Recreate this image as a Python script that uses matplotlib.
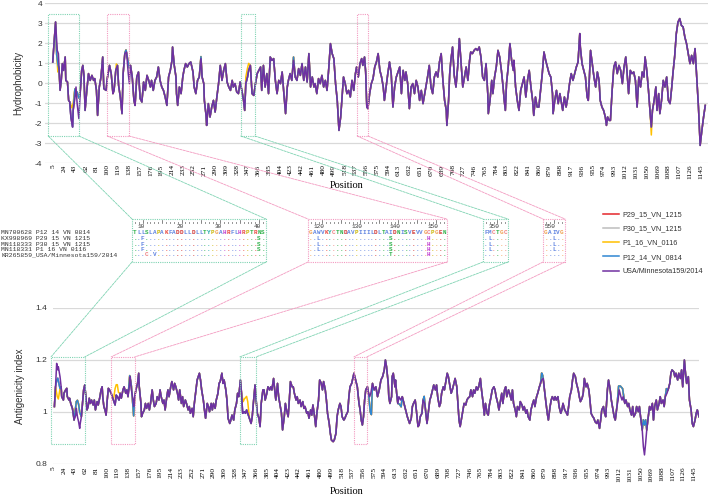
import numpy as np
import matplotlib
matplotlib.use("Agg")
import matplotlib.pyplot as plt
from matplotlib.patches import Rectangle, ConnectionPatch
from matplotlib.ticker import FuncFormatter

plt.rcParams["font.family"] = ["Liberation Sans", "DejaVu Sans"]
plt.rcParams["axes.unicode_minus"] = False

W, H = 709, 497

# ---- hydrophobicity profile, USA/Minnesota159/2014 ----
hydro_pos = [4, 9, 12, 14, 16, 17, 19, 21, 23, 26,
             27, 30, 32, 34, 36, 39, 40, 43, 45, 47,
             50, 52, 55, 57, 59, 61, 64, 67, 70, 73,
             76, 78, 81, 83, 86, 89, 92, 94, 98, 100,
             104, 107, 110, 112, 115, 118, 120, 123, 126, 128,
             131, 134, 137, 139, 141, 144, 147, 149, 152, 155,
             158, 161, 164, 167, 170, 173, 176, 178, 181, 184,
             187, 190, 193, 196, 199, 202, 205, 208, 211, 214,
             215, 218, 221, 222, 224, 227, 230, 233, 235, 238,
             241, 244, 247, 251, 253, 256, 259, 262, 265, 267,
             270, 271, 274, 275, 278, 281, 284, 287, 290, 293,
             296, 299, 302, 305, 308, 311, 314, 317, 320, 322,
             325, 328, 331, 334, 337, 340, 342, 344, 347, 349,
             352, 355, 358, 361, 364, 367, 370, 372, 375, 378,
             381, 384, 387, 390, 393, 396, 399, 402, 405, 408,
             411, 414, 417, 419, 422, 425, 428, 431, 434, 437,
             440, 443, 446, 449, 452, 455, 458, 461, 464, 466,
             469, 472, 475, 478, 481, 484, 487, 490, 493, 496,
             499, 502, 505, 508, 511, 514, 516, 519, 522, 525,
             528, 531, 534, 537, 539, 542, 545, 548, 550, 553,
             555, 557, 559, 562, 565, 568, 571, 574, 577, 580,
             583, 586, 588, 591, 594, 597, 600, 603, 606, 609,
             612, 615, 618, 621, 624, 626, 629, 632, 635, 638,
             641, 644, 647, 650, 653, 656, 659, 662, 664, 667,
             670, 673, 676, 679, 682, 685, 688, 691, 694, 697,
             698, 701, 703, 705, 708, 711, 714, 717, 720, 723,
             726, 729, 732, 735, 738, 740, 743, 746, 749, 752,
             755, 758, 761, 764, 767, 770, 771, 774, 777, 779,
             782, 785, 788, 791, 794, 797, 799, 801, 803, 806,
             809, 812, 815, 816, 819, 822, 825, 828, 831, 834,
             837, 840, 843, 846, 849, 851, 854, 857, 860, 863,
             866, 869, 872, 875, 878, 881, 884, 885, 888, 891,
             894, 897, 899, 902, 905, 908, 911, 914, 917, 920,
             923, 926, 929, 932, 933, 936, 939, 942, 945, 947,
             949, 951, 954, 957, 960, 963, 966, 968, 971, 974,
             977, 979, 981, 984, 986, 989, 992, 995, 998, 1001,
             1004, 1007, 1010, 1013, 1015, 1018, 1021, 1024, 1027, 1030,
             1033, 1036, 1039, 1042, 1045, 1047, 1050, 1053, 1056, 1058,
             1060, 1063, 1066, 1068, 1071, 1073, 1076, 1079, 1082, 1085,
             1088, 1091, 1094, 1096, 1099, 1102, 1105, 1108, 1111, 1114,
             1117, 1120, 1123, 1126, 1129, 1132, 1135, 1138, 1141, 1144,
             1147, 1150, 1153]
hydro_usa = [1.05, 3.05, 1.63, 1.47, 0.30, -0.37, 0.13, 0.97, 0.63, 1.30,
             0.13, 0.05, -0.87, -0.95, -1.70, -2.20, -1.37, -0.78, -0.20, -1.03,
             -1.78, -0.70, 0.63, 0.88, 0.38, -1.37, -0.37, 0.47, 0.13, 0.38,
             0.13, 0.22, -0.37, -1.62, -0.20, 0.30, 1.30, -0.28, -0.37, 0.22,
             0.88, 0.47, -0.53, -0.37, 0.63, 0.88, -0.12, -0.70, -1.53, 0.47,
             1.47, 1.55, 0.47, -0.03, 0.88, 0.30, -0.87, -1.12, 0.30, 0.55,
             -0.78, -0.95, 0.05, -0.37, 0.38, 0.13, -0.20, 0.13, -0.37, 0.13,
             0.30, 0.80, 0.13, -0.20, -0.37, -0.70, -1.12, 0.30, 0.63, 1.13,
             1.80, 0.88, 0.30, -0.53, -1.12, -0.20, -0.53, 0.30, 0.63, 0.97,
             0.80, 0.97, 1.05, 0.55, -0.20, -0.53, 0.13, 0.30, 1.22, 0.30,
             -0.03, -0.87, -1.62, -2.12, -1.03, -1.70, -1.20, -0.87, -1.45, -0.70,
             -0.03, 0.88, 0.13, 0.63, 0.97, 0.05, -0.20, -0.37, 0.13, -0.20,
             -0.03, -0.45, -0.53, 0.05, -0.37, -0.87, -1.37, -0.03, 0.30, 0.63,
             0.88, -0.53, -0.62, -0.03, 0.47, 0.63, 0.80, -0.37, 0.88, -0.20,
             0.47, -0.53, 1.30, 1.13, 1.22, 0.13, -0.53, 0.13, -0.03, 0.55,
             -0.53, -1.53, -0.20, 0.13, 0.47, 0.13, 1.13, 0.30, 0.13, 0.72,
             0.38, 0.97, 0.13, 0.80, 0.05, 1.47, -0.20, 0.30, -0.20, -0.03,
             -0.53, 0.22, -0.03, 0.38, -0.20, 0.13, -0.37, 0.72, 1.97, 1.47,
             1.22, -0.03, -0.87, -2.37, -1.70, -0.53, 0.30, -0.03, -0.53, -0.37,
             -0.70, 0.13, -0.37, 0.47, 0.80, 0.30, 0.97, 1.22, 0.88, 1.30,
             0.55, -1.20, -1.28, -0.53, -0.03, 0.22, 0.80, 1.05, 1.47, 0.63,
             0.30, -0.20, -0.87, -0.20, 0.47, 1.05, 0.47, -1.20, -0.20, 0.30,
             0.55, 0.80, -0.53, 0.63, 0.13, 0.55, -0.03, -1.28, -0.20, -0.03,
             -0.53, 0.13, -0.20, -0.87, -0.37, -1.03, -0.53, -0.03, 0.30, 0.88,
             -0.20, -0.53, 0.30, 0.55, 0.30, 1.05, 1.47, 0.13, -0.87, -1.37,
             -2.12, -0.87, 0.47, 1.13, 1.80, 0.38, -0.20, 0.80, 2.22, 0.97,
             -0.20, 0.30, 0.80, 0.13, 1.13, 1.55, 1.47, 1.63, 1.72, 1.63,
             1.80, 1.30, 0.30, 0.13, 0.97, -0.53, -1.53, -0.87, 0.13, -0.53,
             0.30, 0.80, 1.63, 1.30, 0.63, -0.20, -0.87, -1.37, -0.03, 0.80,
             1.97, 1.13, 0.63, 1.13, -0.20, -0.87, -1.37, -0.37, -0.03, 0.30,
             -0.70, 0.13, 0.63, -0.20, -0.87, -1.62, -0.70, -1.20, -1.20, -0.37,
             0.47, 1.55, 1.13, 0.80, 0.47, 0.30, -0.53, -1.53, -0.87, -0.37,
             -1.03, -0.53, -0.87, -1.37, -0.70, -1.20, -0.70, -0.03, 0.47, 0.13,
             0.47, 0.80, 1.05, 2.47, 1.80, 0.97, 0.63, 0.30, -0.70, -0.87,
             0.30, 1.63, 0.97, 0.30, -0.20, 0.55, 0.13, -0.87, -1.20, -1.37,
             -1.70, -2.12, -1.70, -1.87, -1.87, -0.37, 0.80, 1.05, 0.47, 0.88,
             0.63, -0.03, 0.80, 1.30, 0.63, -0.53, 0.63, 0.47, 0.55, 0.13,
             -1.20, 0.30, -0.20, 0.55, 0.30, 1.30, 0.63, -0.37, -1.53, -2.20,
             -1.37, -0.87, -0.20, -1.37, -0.53, -1.53, -0.87, 0.13, -0.20, 0.30,
             -0.87, -1.03, -0.20, 0.47, 1.30, 2.47, 3.05, 3.22, 2.88, 2.80,
             2.30, 1.97, 1.47, 0.97, 1.38, 0.97, 1.72, 0.30, -1.20, -3.12,
             -2.37, -1.70, -1.12]

# where the Vietnamese strains (P12, P29, P30) leave the USA curve
vn_hydro_pos = [11, 13, 15, 17, 43, 45, 47, 50, 52, 131, 133, 136, 139, 265, 428]
vn_hydro_val = [1.40, 0.95, 0.70, -0.35, -0.30, -0.55, -0.45, -0.75, -0.60,
                1.50, 1.65, 1.20, 0.75, 1.32, 1.30]
# extra differences of P1_16_VN_0116
p1_hydro_pos = [13, 36, 38, 40, 116, 344, 347, 349, 1058]
p1_hydro_val = [0.55, -1.10, -1.25, -1.00, 0.95, 0.30, 0.75, 0.98, -2.60]

# ---- antigenicity profile, USA/Minnesota159/2014 ----
anti_pos = [7, 9, 11, 13, 14, 17, 19, 20, 23, 24,
            27, 29, 30, 33, 34, 36, 39, 40, 42, 45,
            46, 48, 50, 52, 53, 55, 57, 59, 61, 63,
            65, 67, 69, 71, 73, 76, 78, 80, 83, 85,
            88, 90, 92, 93, 95, 97, 99, 101, 103, 105,
            108, 110, 112, 115, 117, 119, 122, 124, 126, 129,
            131, 134, 136, 138, 141, 142, 144, 147, 148, 150,
            152, 155, 157, 158, 161, 162, 164, 167, 169, 171,
            174, 176, 178, 181, 183, 185, 188, 190, 193, 195,
            197, 200, 202, 204, 207, 209, 211, 214, 216, 219,
            221, 223, 226, 228, 230, 233, 235, 237, 240, 242,
            245, 247, 249, 252, 254, 256, 259, 261, 263, 265,
            267, 269, 272, 274, 276, 279, 281, 283, 286, 288,
            290, 293, 295, 298, 300, 302, 305, 307, 309, 312,
            314, 316, 319, 321, 323, 326, 328, 331, 333, 335,
            338, 340, 342, 345, 347, 349, 352, 354, 357, 359,
            361, 364, 366, 368, 371, 373, 375, 378, 380, 382,
            385, 387, 390, 392, 394, 397, 399, 401, 404, 406,
            408, 411, 413, 416, 418, 420, 423, 425, 427, 430,
            432, 434, 437, 439, 441, 444, 446, 449, 451, 453,
            456, 458, 460, 463, 465, 467, 470, 472, 474, 477,
            479, 482, 484, 486, 489, 491, 493, 496, 498, 500,
            503, 505, 508, 510, 512, 515, 517, 519, 522, 524,
            526, 529, 531, 533, 536, 540, 543, 546, 549, 551,
            553, 555, 557, 559, 561, 564, 566, 568, 570, 573,
            576, 579, 582, 585, 588, 591, 594, 596, 598, 601,
            602, 604, 607, 608, 610, 613, 614, 616, 618, 620,
            623, 626, 629, 632, 635, 637, 639, 642, 644, 646,
            649, 651, 654, 656, 658, 661, 663, 666, 668, 670,
            673, 675, 677, 680, 682, 685, 687, 689, 692, 694,
            696, 699, 701, 704, 706, 708, 711, 713, 715, 718,
            720, 723, 725, 727, 729, 732, 734, 736, 739, 741,
            743, 746, 748, 751, 753, 755, 758, 760, 762, 765,
            767, 770, 772, 774, 777, 779, 781, 784, 786, 789,
            791, 793, 796, 798, 801, 803, 805, 808, 810, 812,
            815, 817, 820, 822, 824, 827, 829, 831, 834, 836,
            839, 841, 843, 846, 848, 850, 853, 855, 858, 860,
            862, 865, 867, 870, 872, 874, 877, 879, 881, 884,
            886, 889, 891, 893, 896, 898, 900, 903, 905, 908,
            910, 912, 915, 917, 920, 922, 924, 927, 929, 931,
            934, 936, 939, 941, 943, 946, 948, 950, 953, 955,
            958, 960, 962, 965, 967, 969, 972, 974, 977, 979,
            981, 984, 986, 988, 991, 993, 996, 998, 1000, 1003,
            1005, 1008, 1010, 1012, 1015, 1017, 1019, 1022, 1024, 1027,
            1029, 1031, 1034, 1036, 1038, 1041, 1043, 1046, 1048, 1050,
            1053, 1055, 1057, 1059, 1061, 1063, 1066, 1068, 1071, 1073,
            1075, 1078, 1080, 1083, 1085, 1087, 1090, 1092, 1094, 1097,
            1099, 1102, 1104, 1106, 1109, 1111, 1113, 1116, 1118, 1121,
            1123, 1125, 1128, 1130, 1132, 1135, 1137, 1140, 1142, 1144,
            1147, 1149, 1151, 1154]
anti_usa = [1.021, 1.097, 1.187, 1.162, 1.174, 1.136, 1.097, 1.059, 1.046, 1.072,
            1.085, 1.091, 1.059, 1.046, 1.053, 1.033, 1.014, 1.001, 0.969, 0.988,
            1.014, 0.982, 0.963, 0.937, 0.956, 0.982, 1.033, 1.085, 1.104, 1.059,
            1.008, 1.021, 1.053, 1.033, 1.046, 1.027, 1.046, 1.008, 1.040, 1.027,
            1.059, 1.085, 1.097, 1.059, 1.021, 1.008, 0.988, 1.046, 1.091, 1.085,
            1.072, 1.059, 1.046, 1.027, 1.065, 1.059, 1.046, 1.072, 1.053, 1.085,
            1.097, 1.072, 1.085, 1.059, 1.110, 1.136, 1.085, 1.046, 1.021, 1.059,
            1.085, 1.110, 1.149, 1.097, 1.033, 0.982, 0.995, 1.008, 1.033, 1.014,
            1.033, 1.008, 1.033, 1.085, 1.046, 1.021, 1.033, 1.059, 1.046, 1.085,
            1.059, 1.033, 1.046, 1.008, 1.059, 1.085, 1.059, 1.097, 1.117, 1.085,
            1.110, 1.097, 1.072, 1.046, 1.085, 1.033, 1.059, 1.021, 1.046, 1.033,
            1.008, 1.021, 0.995, 1.014, 0.982, 1.033, 1.085, 1.123, 1.136, 1.149,
            1.123, 1.085, 1.046, 1.008, 0.976, 1.033, 1.021, 1.001, 1.033, 1.008,
            1.033, 1.014, 1.046, 1.072, 1.110, 1.117, 1.149, 1.110, 1.123, 1.085,
            1.046, 0.976, 0.956, 0.969, 0.988, 0.969, 1.008, 1.033, 1.072, 1.059,
            1.123, 1.072, 0.995, 1.001, 0.995, 1.008, 0.988, 0.976, 0.956, 0.982,
            1.033, 1.104, 1.046, 0.995, 0.976, 0.944, 1.033, 1.085, 1.085, 1.046,
            1.072, 1.097, 1.085, 1.097, 1.085, 1.129, 1.085, 1.046, 1.110, 1.059,
            1.033, 0.995, 0.931, 0.982, 1.033, 1.008, 0.982, 1.046, 1.117, 1.097,
            1.097, 1.072, 1.046, 1.059, 1.033, 1.046, 1.021, 1.040, 1.014, 1.021,
            0.995, 1.001, 0.976, 1.008, 0.988, 1.027, 0.982, 0.944, 0.995, 1.046,
            1.123, 1.110, 1.085, 1.117, 1.085, 1.046, 0.995, 0.956, 0.918, 0.892,
            0.886, 0.892, 0.918, 0.982, 1.008, 1.033, 1.021, 0.982, 0.969, 0.976,
            0.988, 1.001, 1.059, 1.097, 1.110, 1.149, 1.123, 1.097, 1.033, 1.008,
            0.969, 0.950, 0.982, 1.046, 1.085, 1.097, 1.072, 1.059, 1.072, 1.110,
            1.085, 1.097, 1.059, 1.085, 1.123, 1.136, 1.162, 1.200, 1.174, 1.110,
            1.059, 1.033, 1.059, 1.136, 1.149, 1.097, 1.123, 1.072, 1.033, 1.059,
            1.046, 1.059, 1.033, 1.008, 0.982, 0.969, 0.956, 0.976, 1.021, 1.033,
            1.046, 1.008, 0.944, 0.950, 0.982, 0.995, 1.046, 1.033, 0.995, 0.956,
            1.008, 1.046, 1.059, 1.085, 1.104, 1.085, 1.104, 1.059, 1.021, 1.033,
            1.072, 1.097, 1.085, 1.123, 1.149, 1.136, 1.097, 1.072, 1.085, 1.110,
            1.129, 1.097, 1.033, 0.969, 0.944, 0.982, 1.008, 1.033, 1.027, 1.046,
            1.053, 1.059, 1.085, 1.059, 1.085, 1.072, 1.097, 1.085, 1.097, 1.129,
            1.085, 1.033, 0.988, 1.033, 0.995, 0.988, 1.027, 1.059, 1.085, 1.097,
            1.085, 1.059, 1.033, 1.008, 1.046, 1.072, 1.033, 1.085, 1.097, 1.059,
            1.085, 1.072, 1.046, 1.085, 1.033, 1.008, 0.982, 1.021, 1.008, 1.040,
            1.027, 1.008, 1.021, 0.995, 1.008, 0.982, 0.969, 1.008, 1.033, 1.046,
            1.021, 1.059, 1.072, 1.097, 1.110, 1.123, 1.129, 1.085, 1.046, 0.995,
            0.969, 1.021, 1.046, 1.059, 1.046, 1.059, 1.046, 1.059, 1.021, 0.995,
            1.008, 1.033, 1.008, 1.001, 0.988, 1.021, 1.059, 1.085, 1.123, 1.149,
            1.136, 1.110, 1.085, 1.059, 1.040, 1.053, 1.072, 1.129, 1.097, 1.110,
            1.085, 1.046, 0.995, 0.982, 0.976, 0.963, 0.956, 0.969, 0.937, 0.969,
            1.008, 1.021, 0.995, 0.982, 1.085, 1.123, 1.085, 1.046, 1.021, 0.982,
            0.969, 1.021, 1.046, 1.085, 1.059, 1.046, 1.059, 1.033, 1.046, 1.021,
            1.033, 1.008, 0.988, 1.021, 0.982, 0.995, 1.021, 1.001, 1.021, 0.982,
            0.931, 0.867, 0.835, 0.879, 0.931, 0.969, 1.021, 1.008, 1.033, 0.969,
            1.021, 1.046, 1.008, 1.033, 1.059, 1.033, 1.046, 1.021, 1.059, 1.072,
            1.085, 1.110, 1.149, 1.162, 1.155, 1.136, 1.149, 1.123, 1.149, 1.129,
            1.162, 1.097, 1.200, 1.149, 1.110, 1.136, 1.046, 1.008, 0.956, 0.944,
            0.969, 0.995, 1.008, 0.982]

vn_anti_pos = [11, 13, 15, 17, 46, 48, 50, 52, 141, 144, 148, 569, 571, 621, 624,
               665, 874, 876, 1011, 1014, 1018, 1055, 1057, 1059, 1096]
vn_anti_val = [1.12, 1.13, 1.11, 1.09, 1.04, 1.045, 1.03, 1.00, 1.14, 1.10, 0.985,
               1.00, 0.99, 1.03, 1.02, 1.06, 1.15, 1.14, 1.10, 1.10, 1.09,
               0.97, 0.95, 0.97, 1.09]
p1_anti_pos = [12, 14, 40, 115, 117, 119, 121, 343, 345, 347, 349, 351]
p1_anti_val = [1.06, 1.05, 1.01, 1.09, 1.105, 1.105, 1.075, 1.04, 1.05, 1.055, 1.06, 1.04]

strains = ["P29_15_VN_1215", "P30_15_VN_1215", "P1_16_VN_0116",
           "P12_14_VN_0814", "USA/Minnesota159/2014"]
strain_colors = ["#e4262b", "#bdbdbd", "#ffc000", "#2f86d2", "#7030a0"]

x_ticks = list(range(5, 1146, 19))

# ---- alignment excerpt ----
aln_names = ["MN700628 P12 14 VN 0814", "KX998969 P29 15 VN 1215",
             "MN118333 P30 15 VN 1215", "MN118331 P1 16 VN 0116",
             "KR265859_USA/Minnesota159/2014"]
aln_start = [8, 117, 347, 548]
aln_ref = ["TLLSLAPAKFADDLLDLLTYPGAHRFLHRPTRNS",
           "GAWVKYCTNDAVPIIILDLTAIDNISVEVVGCPGEN",
           "FMCTGC",
           "GAIVG"]
aln_var = [
    [{2: "F", 32: "S"}, {2: "F", 32: "S"}, {2: "F", 32: "S"}, {3: "C", 5: "V"}],
    [{2: "L", 21: "S", 31: "H"}, {2: "L", 21: "S", 31: "H"}, {2: "L", 21: "S", 31: "H"},
     {21: "T", 31: "H"}],
    [{1: "L"}, {1: "L"}, {1: "L"}, {}],
    [{2: "L"}, {2: "L"}, {2: "L"}, {}],
]

# zoomed regions (sequence positions) on both profiles
top_regions = [(-4, 50), (100, 138), (335, 360), (540, 559)]
low_regions = [(1, 61), (108, 150), (337, 366), (540, 563)]
region_colors = ["#7fd3b2", "#f39ac0", "#7fd3b2", "#f39ac0"]

res_color = {}
for aa in "AILMFWV":
    res_color[aa] = "#5f83e0"
for aa in "KR":
    res_color[aa] = "#e8453c"
for aa in "ED":
    res_color[aa] = "#d0302f"
for aa in "NQST":
    res_color[aa] = "#2fb04a"
res_color.update({"C": "#ee7f7f", "G": "#f0a050", "P": "#c8b400", "H": "#c040d0", "Y": "#20a8a8"})


def with_changes(pos, val, cpos, cval):
    pos = np.asarray(pos, float)
    val = np.asarray(val, float)
    cpos = np.asarray(cpos, float)
    cval = np.asarray(cval, float)
    keep = np.array([np.min(np.abs(cpos - p)) > 1.5 for p in pos])
    p = np.concatenate([pos[keep], cpos])
    v = np.concatenate([val[keep], cval])
    order = np.argsort(p)
    return p[order], v[order]


def strain_curves(pos, usa, vn_p, vn_v, p1_p, p1_v):
    vn = with_changes(pos, usa, vn_p, vn_v)
    p1 = with_changes(vn[0], vn[1], p1_p, p1_v)
    return [vn, vn, p1, vn, (np.asarray(pos), np.asarray(usa))]


fig = plt.figure(figsize=(W / 100, H / 100), dpi=100)


def px_axes(l, t, r, b, **kw):
    return fig.add_axes([l / W, 1 - b / H, (r - l) / W, (b - t) / H], **kw)


def draw_profile(ax, curves, xlim, ylim, yticks, ypad, xpad):
    lines = []
    for (px, py), name, c in zip(curves, strains, strain_colors):
        ln, = ax.plot(px, py, color=c, lw=1.1, label=name, solid_joinstyle="round")
        lines.append(ln)
    ax.set_xlim(*xlim)
    ax.set_ylim(*ylim)
    ax.set_yticks(yticks)
    ax.yaxis.set_major_formatter(FuncFormatter(lambda v, _: f"{v:g}"))
    ax.set_xticks(x_ticks)
    ax.set_xticklabels([str(t) for t in x_ticks], rotation=90,
                       fontsize=5.3, family="Liberation Serif")
    ax.tick_params(axis="x", length=0, pad=xpad)
    ax.tick_params(axis="y", length=0, pad=ypad, labelsize=6, labelcolor="#333333")
    ax.grid(axis="y", color="#d9d9d9", lw=0.9)
    ax.set_axisbelow(True)
    for s in ax.spines.values():
        s.set_visible(False)
    ax.set_facecolor("none")
    return lines


ax1 = px_axes(45, 3, 708, 163)
ax2 = px_axes(53, 308, 699, 464)
ov = px_axes(0, 0, W, H, zorder=5)
ov.set_xlim(0, W)
ov.set_ylim(H, 0)
ov.axis("off")

lines = draw_profile(ax1, strain_curves(hydro_pos, hydro_usa, vn_hydro_pos, vn_hydro_val,
                                        p1_hydro_pos, p1_hydro_val),
                     (-9.6, 1157.8), (-4, 4), range(-4, 5), 2, 1)
draw_profile(ax2, strain_curves(anti_pos, anti_usa, vn_anti_pos, vn_anti_val,
                                p1_anti_pos, p1_anti_val),
             (4.5, 1154), (0.8, 1.4), [0.8, 1.0, 1.2, 1.4], 4, 2)

ax1.set_ylabel("Hydrophobicity", fontsize=7, color="#333333")
ax1.yaxis.set_label_coords(-0.033, 0.5)
ax2.set_ylabel("Antigenicity index", fontsize=7, color="#333333")
ax2.yaxis.set_label_coords(-0.043, 0.5)
for ax, ly in ((ax1, -0.11), (ax2, -0.15)):
    ax.set_xlabel("Position", fontsize=7.5, family="Liberation Serif")
    ax.xaxis.set_label_coords(0.455, ly)

# region boxes on the profiles
top_y = (-2.65, 3.45)
low_y = (0.877, 1.212)
for ax, regs, (y0, y1) in ((ax1, top_regions, top_y), (ax2, low_regions, low_y)):
    for (x0, x1), c in zip(regs, region_colors):
        ax.add_patch(Rectangle((x0, y0), x1 - x0, y1 - y0, fill=False, ec=c,
                               lw=0.8, ls=(0, (1, 1)), clip_on=False, zorder=4))

# alignment panel
ALN_TOP, ALN_BOT = 219, 262
box_x0 = [132, 308, 483, 543]
box_x1 = [266, 447, 508, 565]
rows_y = [233, 238.5, 244, 249.5, 255]
FS = 4.3

for k, name in enumerate(aln_names):
    ov.text(1, rows_y[k], name, family="Liberation Mono", fontsize=4.6,
            ha="left", va="center", color="#333333")

for start, ref, var, bx, bx1, c_box in zip(aln_start, aln_ref, aln_var, box_x0, box_x1,
                                           region_colors):
    n = len(ref)
    cw = (bx1 - bx - 2) / n
    ov.add_patch(Rectangle((bx, ALN_TOP), bx1 - bx, ALN_BOT - ALN_TOP, fill=False, ec=c_box,
                           lw=0.8, ls=(0, (1, 1))))
    for i, aa in enumerate(ref):
        cx = bx + 1 + (i + 0.5) * cw
        resno = start + i
        th = 3 if resno % 5 == 0 else 1.2
        ov.plot([cx, cx], [223 - th, 223], color="#555555", lw=0.5)
        if resno % 10 == 0:
            ov.text(cx + cw / 2, 227, str(resno), ha="right", va="center",
                    fontsize=FS, family="Liberation Mono", color="#333333")
        col = res_color.get(aa, "#777777")
        ov.text(cx, rows_y[0], aa, ha="center", va="center", fontsize=FS,
                family="Liberation Mono", fontweight="bold", color=col)
        for r, d in enumerate(var):
            ch = d.get(i, ".")
            ov.text(cx, rows_y[r + 1], ch, ha="center", va="center", fontsize=FS,
                    family="Liberation Mono", fontweight="bold",
                    color=res_color.get(ch, col))

# connectors: profile box -> alignment box -> profile box
for k in range(4):
    bx, bx1 = box_x0[k], box_x1[k]
    c = region_colors[k]
    for xa, xb in ((top_regions[k][0], bx), (top_regions[k][1], bx1)):
        fig.add_artist(ConnectionPatch(xyA=(xa, top_y[0]), coordsA=ax1.transData,
                                       xyB=(xb, ALN_TOP), coordsB=ov.transData,
                                       color=c, lw=0.6, ls=(0, (3, 1.2))))
    for xa, xb in ((bx, low_regions[k][0]), (bx1, low_regions[k][1])):
        fig.add_artist(ConnectionPatch(xyA=(xa, ALN_BOT), coordsA=ov.transData,
                                       xyB=(xb, low_y[1]), coordsB=ax2.transData,
                                       color=c, lw=0.6, ls=(0, (3, 1.2))))

fig.legend(lines, strains, loc="upper left", bbox_to_anchor=(603 / W, 1 - 211 / H),
           frameon=False, fontsize=5.2, handlelength=2.2, handletextpad=0.5,
           labelspacing=1.0, borderpad=0, borderaxespad=0, labelcolor="#333333")

fig.savefig("out.png", dpi=100)
